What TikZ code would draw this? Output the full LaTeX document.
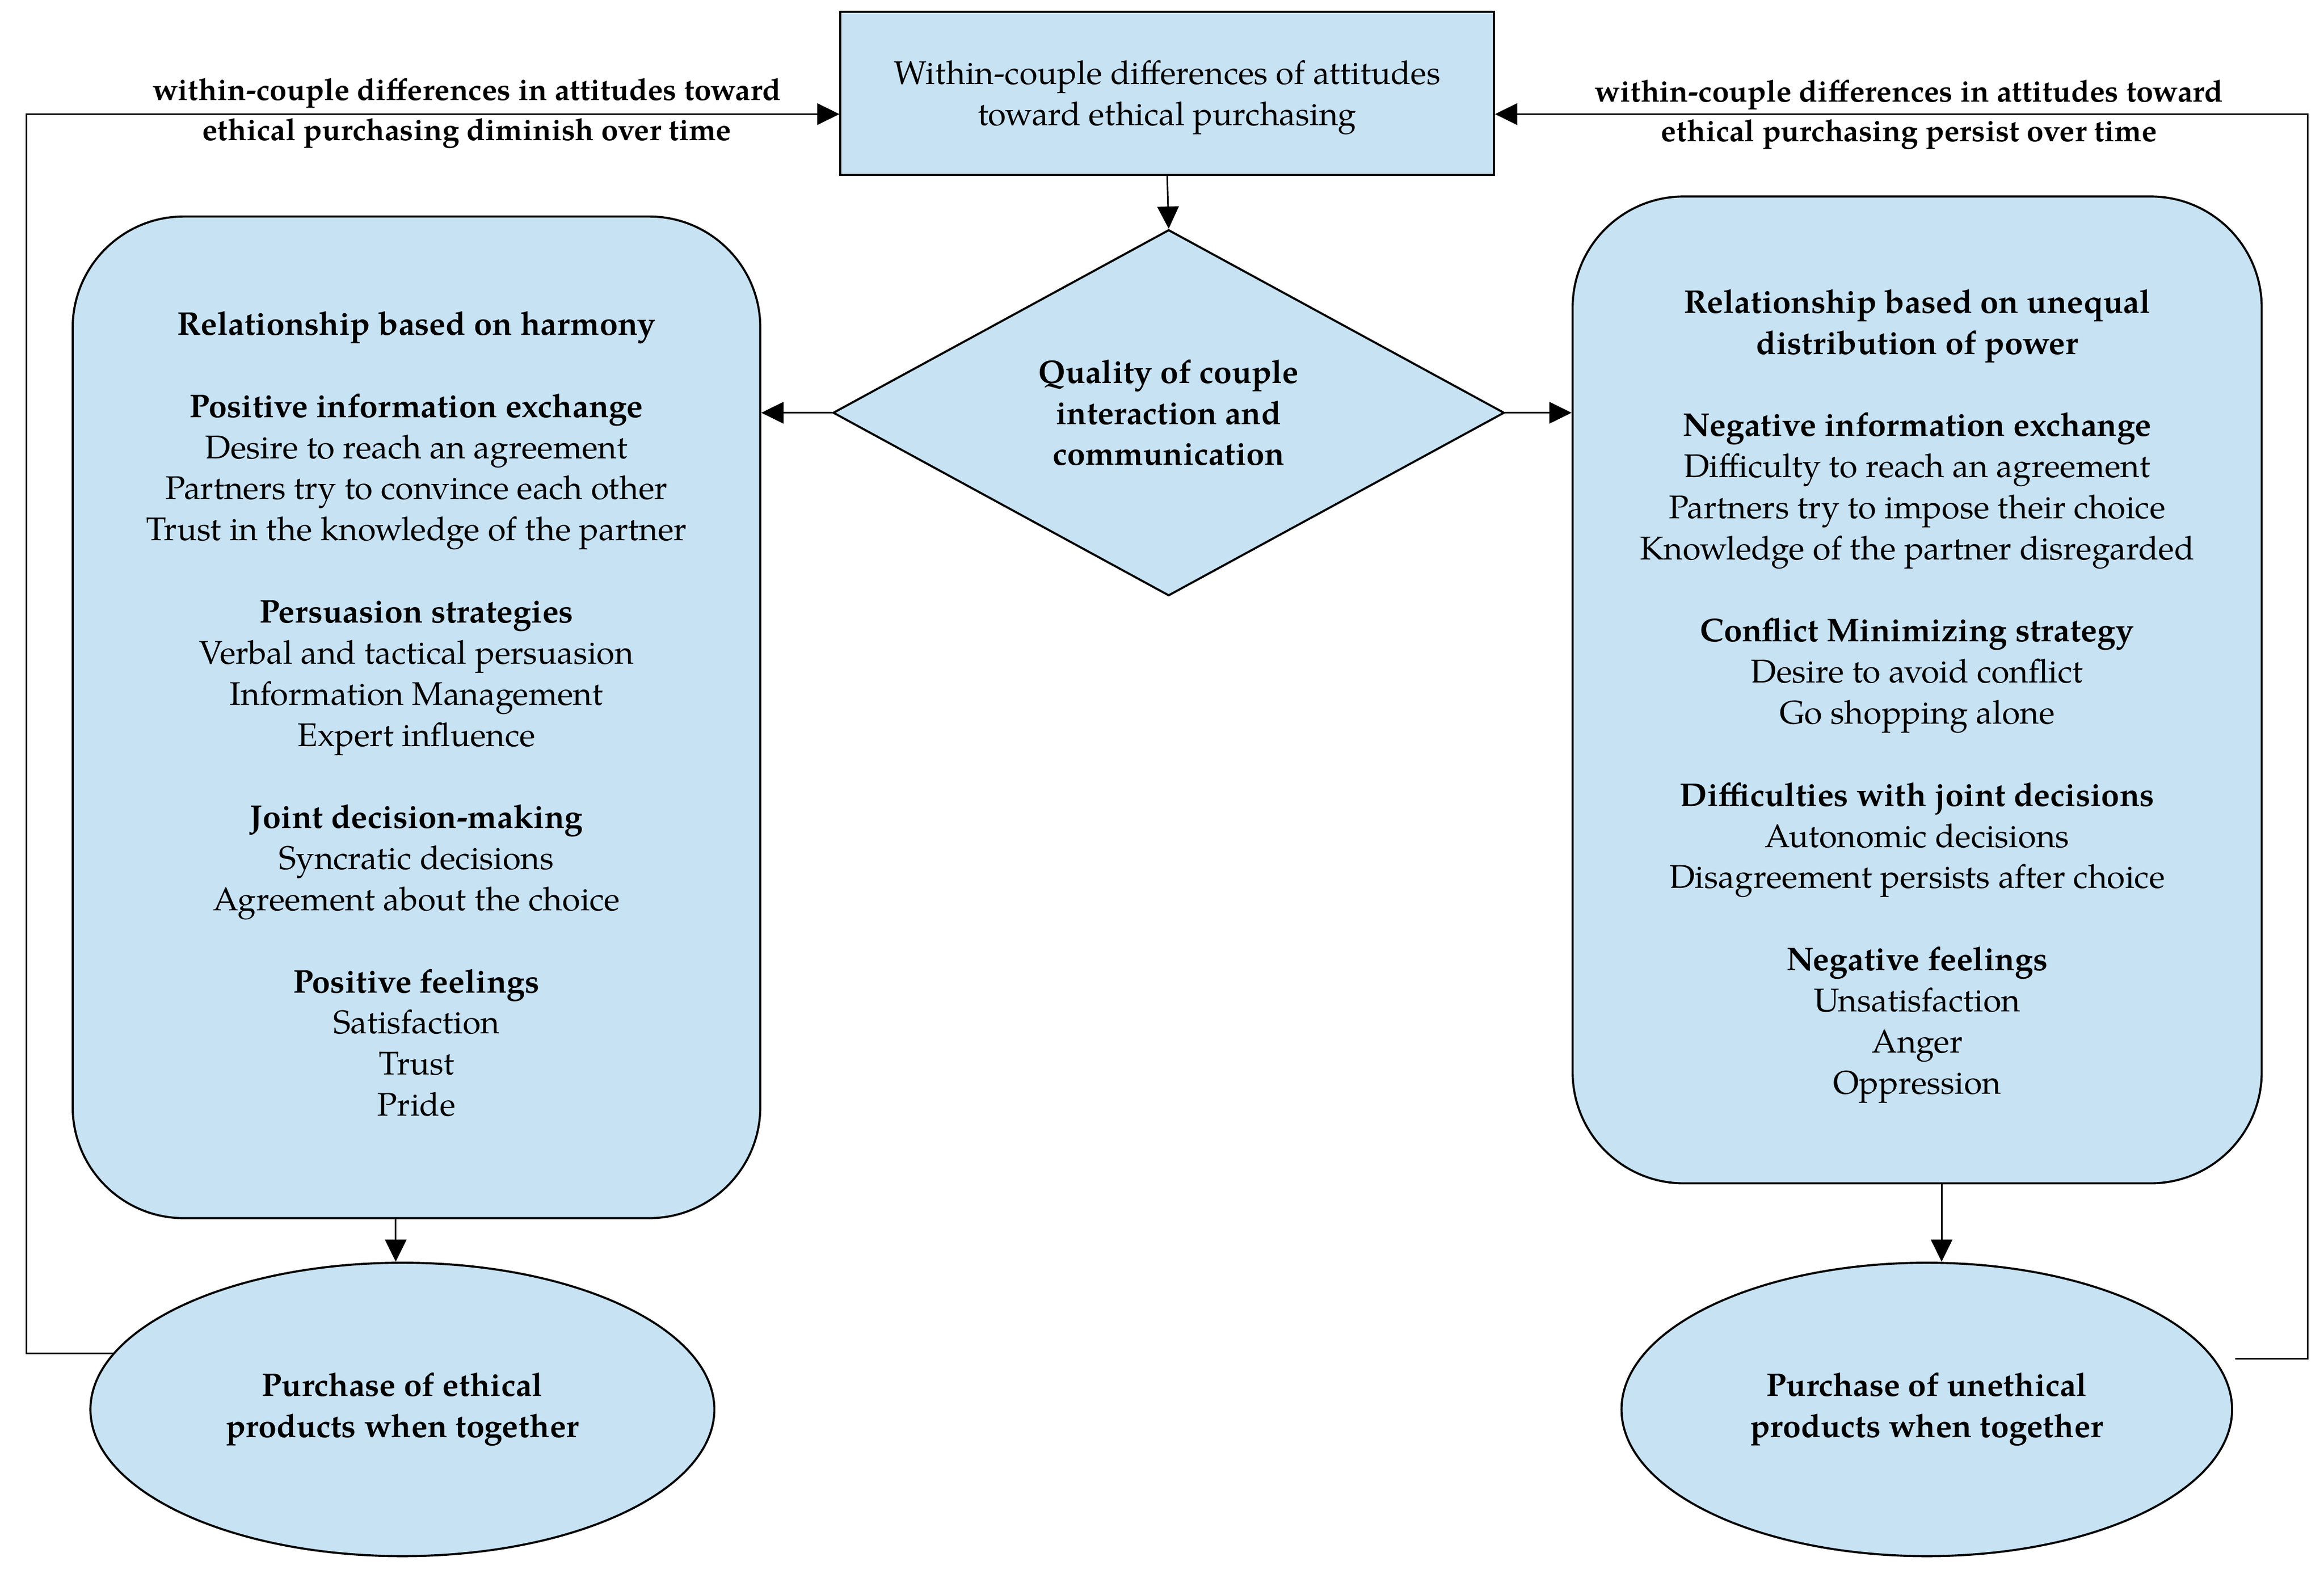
\documentclass[tikz,border=0pt]{standalone}
\usepackage{fontspec}
\setmainfont{TeX Gyre Pagella}
\usetikzlibrary{shapes.geometric,arrows.meta}
\definecolor{boxblue}{HTML}{C7E2F3}
\begin{document}
\begin{tikzpicture}[x=0.02cm,y=-0.02cm,
  txt/.style={font=\fontsize{12.6}{15.78}\selectfont},
  btxt/.style={font=\fontsize{12.5}{15.78}\selectfont\bfseries},
  fillbox/.style={draw=black, line width=0.8pt, fill=boxblue, align=center, inner sep=0pt},
  arr/.style={-{Triangle[length=0.3cm,width=0.29cm]}, line width=0.6pt},
  lbl/.style={align=center, inner sep=0pt, font=\fontsize{11.7}{15.3}\selectfont\bfseries}]
\useasboundingbox (0,0) rectangle (1568,1062);

\node[fillbox, rectangle, txt, minimum width=8.82cm, minimum height=2.2cm] (top) at (787.5,63)
  {\rule{0pt}{0.44cm}Within-couple differences of attitudes\\toward ethical purchasing};

\node[fillbox, diamond, btxt, aspect=1.834, minimum width=9.06cm, minimum height=4.94cm] (q) at (788.5,278.5)
  {Quality of couple\\interaction and\\communication};

\node[fillbox, rectangle, txt, rounded corners=1.5cm, minimum width=9.28cm, minimum height=13.52cm] (L) at (281,484)
  {\strut\textbf{Relationship based on harmony}\\[0.555cm]
   \textbf{Positive information exchange}\\
   Desire to reach an agreement\\
   Partners try to convince each other\\
   Trust in the knowledge of the partner\\[0.555cm]
   \textbf{Persuasion strategies}\\
   Verbal and tactical persuasion\\
   Information Management\\
   Expert influence\\[0.555cm]
   \textbf{Joint decision-making}\\
   Syncratic decisions\\
   Agreement about the choice\\[0.555cm]
   \textbf{Positive feelings}\\
   Satisfaction\\
   Trust\\
   Pride\strut};

\node[fillbox, rectangle, txt, rounded corners=1.5cm, minimum width=9.3cm, minimum height=13.32cm] (R) at (1293.5,465.5)
  {\rule{0pt}{0.53cm}\textbf{Relationship based on unequal}\\
   \textbf{distribution of power}\\[0.555cm]
   \textbf{Negative information exchange}\\
   Difficulty to reach an agreement\\
   Partners try to impose their choice\\
   Knowledge of the partner disregarded\\[0.555cm]
   \textbf{Conflict Minimizing strategy}\\
   Desire to avoid conflict\\
   Go shopping alone\\[0.555cm]
   \textbf{Difficulties with joint decisions}\\
   Autonomic decisions\\
   Disagreement persists after choice\\[0.555cm]
   \textbf{Negative feelings}\\
   Unsatisfaction\\
   Anger\\
   Oppression\strut};

\node[fillbox, ellipse, btxt, minimum width=8.42cm, minimum height=3.96cm] (le) at (271.5,951)
  {Purchase of ethical\\products when together};
\node[fillbox, ellipse, btxt, minimum width=8.24cm, minimum height=3.96cm] (re) at (1300,951)
  {Purchase of unethical\\products when together};

\coordinate (lc) at (18,77);
\coordinate (rc) at (1557,77);

\draw[arr] (top.south) -- (q.north);
\draw[arr] (q.west) -- (L.east |- q.west);
\draw[arr] (q.east) -- (R.west |- q.east);
\draw[arr] ([xshift=-0.28cm]L.south) -- ([xshift=-0.28cm]L.south |- le.north);
\draw[arr] ([xshift=0.33cm]R.south) -- ([xshift=0.33cm]R.south |- re.north);

\draw[arr] (le.169.5) -- (le.169.5 -| lc) -- (lc) -- (top.west |- lc);
\draw[arr] ([xshift=0.28cm]re.10.5) -- (re.10.5 -| rc) -- (rc) -- (top.east |- rc);

\node[lbl] (ll) at (315,76.5) {within-couple differences in attitudes toward\\ethical purchasing diminish over time};
\node[lbl] (rl) at (1288,77.5) {within-couple differences in attitudes toward\\ethical purchasing persist over time};
\end{tikzpicture}
\end{document}
